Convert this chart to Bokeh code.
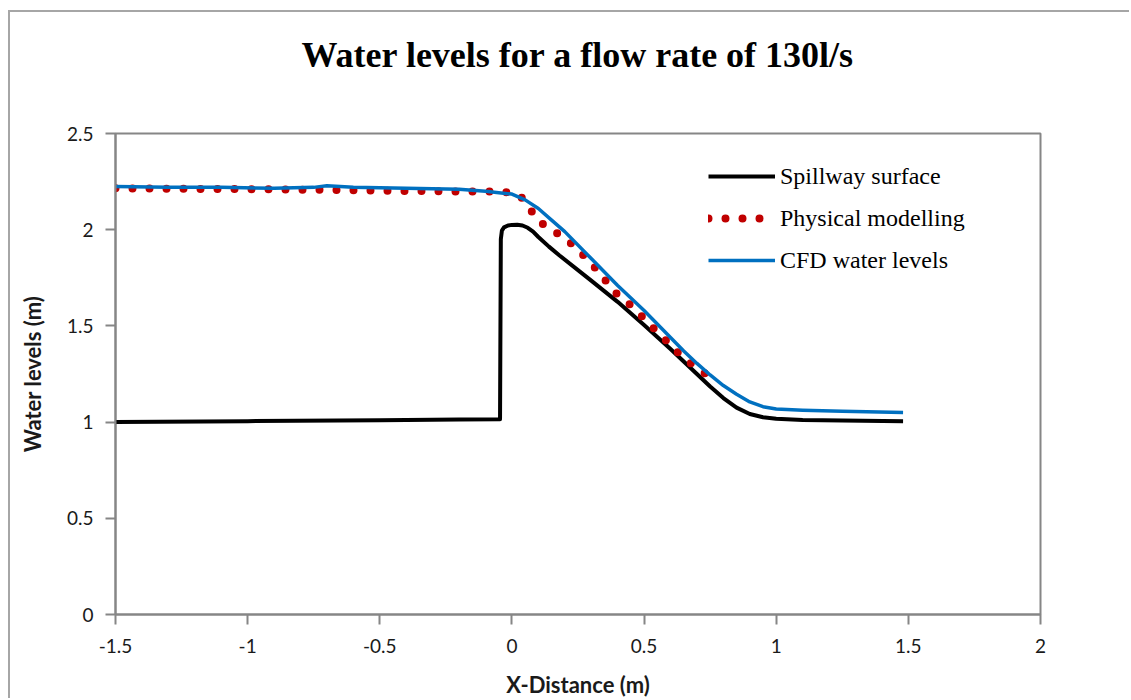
from bokeh.plotting import figure
from bokeh.models import Range1d, FixedTicker, Legend, LegendItem
from bokeh.embed import file_html
from bokeh.resources import INLINE

# Spillway geometry (crest near x = 0, ogee face down to the apron)
spill_x = [-1.5, -1.0, -0.5, -0.2, -0.045, -0.042, -0.038, -0.03, -0.015, 0.0, 0.02, 0.04,
           0.06, 0.08, 0.10, 0.14, 0.18, 0.3, 0.4, 0.5, 0.6, 0.65, 0.7, 0.75, 0.8, 0.85,
           0.9, 0.95, 1.0, 1.1, 1.25, 1.48]
spill_y = [1.00, 1.005, 1.01, 1.013, 1.015, 1.95, 1.995, 2.012, 2.022, 2.025, 2.026, 2.022,
           2.01, 1.99, 1.962, 1.912, 1.866, 1.735, 1.625, 1.505, 1.38, 1.315, 1.25, 1.185, 1.125, 1.075,
           1.042, 1.025, 1.017, 1.011, 1.008, 1.005]

# Measured water surface from the physical model
phys_x = [-1.5, -1.2, -0.9, -0.6, -0.3, -0.1, -0.04, 0.03, 0.067, 0.105, 0.162, 0.215,
          0.265, 0.31, 0.352, 0.394, 0.447, 0.492, 0.538, 0.587, 0.633, 0.682, 0.739]
phys_y = [2.215, 2.212, 2.21, 2.205, 2.20, 2.198, 2.20, 2.18, 2.11, 2.04, 1.99, 1.94,
          1.875, 1.81, 1.74, 1.67, 1.61, 1.55, 1.485, 1.42, 1.355, 1.30, 1.245]

# Water surface from the CFD run
cfd_x = [-1.5, -1.3, -1.1, -0.9, -0.75, -0.7, -0.6, -0.4, -0.2, -0.1, 0.0, 0.05, 0.1,
         0.15, 0.2, 0.3, 0.4, 0.5, 0.6, 0.65, 0.7, 0.75, 0.8, 0.85, 0.9, 0.95, 1.0, 1.1,
         1.25, 1.48]
cfd_y = [2.225, 2.22, 2.22, 2.215, 2.22, 2.228, 2.22, 2.215, 2.21, 2.20, 2.185, 2.155, 2.11,
         2.05, 1.99, 1.85, 1.71, 1.58, 1.44, 1.37, 1.305, 1.245, 1.19, 1.145, 1.105, 1.08, 1.068, 1.062,
         1.056, 1.05]

x_ticks = [-1.5, -1.0, -0.5, 0.0, 0.5, 1.0, 1.5, 2.0]
x_tick_labels = ["-1.5", "-1", "-0.5", "0", "0.5", "1", "1.5", "2"]
y_ticks = [0.0, 0.5, 1.0, 1.5, 2.0, 2.5]
y_tick_labels = ["0", "0.5", "1", "1.5", "2", "2.5"]

chart_title = "Water levels for a flow rate of 130l/s"

GRAY = "#868686"
SERIF = "Liberation Serif"
SANS = "Lato"

# A blank second title line leaves the gap between the heading and the plot area
p = figure(width=1121, height=688, output_backend="svg", toolbar_location=None,
           x_range=Range1d(-1.5, 2.0), y_range=Range1d(0.0, 2.5),
           min_border_left=105, min_border_right=91, min_border_top=121, min_border_bottom=86,
           title=chart_title + "\n ")
p.margin = (10, 0, 0, 8)
p.styles = {"border-left": "2px solid #a6a6a6", "border-top": "2px solid #a6a6a6"}

p.title.align = "center"
p.title.vertical_align = "top"
p.title.standoff = 34
p.title.text_font = SERIF
p.title.text_font_size = "36px"
p.title.text_font_style = "bold"
p.title.text_color = "#000000"

p.xgrid.visible = False
p.ygrid.visible = False
p.outline_line_color = GRAY
p.outline_line_width = 2

for ax, ticks, labels in ((p.xaxis[0], x_ticks, x_tick_labels), (p.yaxis[0], y_ticks, y_tick_labels)):
    ax.ticker = FixedTicker(ticks=ticks)
    ax.major_label_overrides = {t: l for t, l in zip(ticks, labels)}
    ax.minor_tick_line_color = None
    ax.major_tick_in = 0
    ax.major_tick_out = 10
    ax.major_tick_line_color = GRAY
    ax.major_tick_line_width = 2
    ax.axis_line_color = GRAY
    ax.axis_line_width = 2
    ax.major_label_text_font = SANS
    ax.major_label_text_font_size = "19px"
    ax.major_label_text_color = "#1a1a1a"
    ax.axis_label_text_font = SANS
    ax.axis_label_text_font_size = "22px"
    ax.axis_label_text_font_style = "bold"
    ax.axis_label_text_color = "#1a1a1a"

p.xaxis.axis_label = "X-Distance (m)"
p.yaxis.axis_label = "Water levels (m)"
p.xaxis.major_label_standoff = 14
p.xaxis.axis_label_standoff = 15
p.yaxis.major_label_standoff = 12
p.yaxis.axis_label_standoff = 18

r_spill = p.line(spill_x, spill_y, line_color="#000000", line_width=4, line_join="round")
r_phys = p.line(phys_x, phys_y, line_color="#C00000", line_width=8, line_dash="0 17",
                line_cap="round", line_join="round")
r_cfd = p.line(cfd_x, cfd_y, line_color="#0070C0", line_width=3.5, line_join="round")

legend = Legend(items=[LegendItem(label="Spillway surface", renderers=[r_spill]),
                       LegendItem(label="Physical modelling", renderers=[r_phys]),
                       LegendItem(label="CFD water levels", renderers=[r_cfd])],
                location=(593, 339))
legend.border_line_color = None
legend.background_fill_alpha = 0
legend.padding = 0
legend.margin = 0
legend.spacing = 12
legend.glyph_width = 67
legend.glyph_height = 30
legend.label_height = 30
legend.label_standoff = 5
legend.label_text_font = SERIF
legend.label_text_font_size = "24px"
legend.label_text_color = "#000000"
p.add_layout(legend, "center")

open("out.html", "w").write(file_html(p, INLINE))
